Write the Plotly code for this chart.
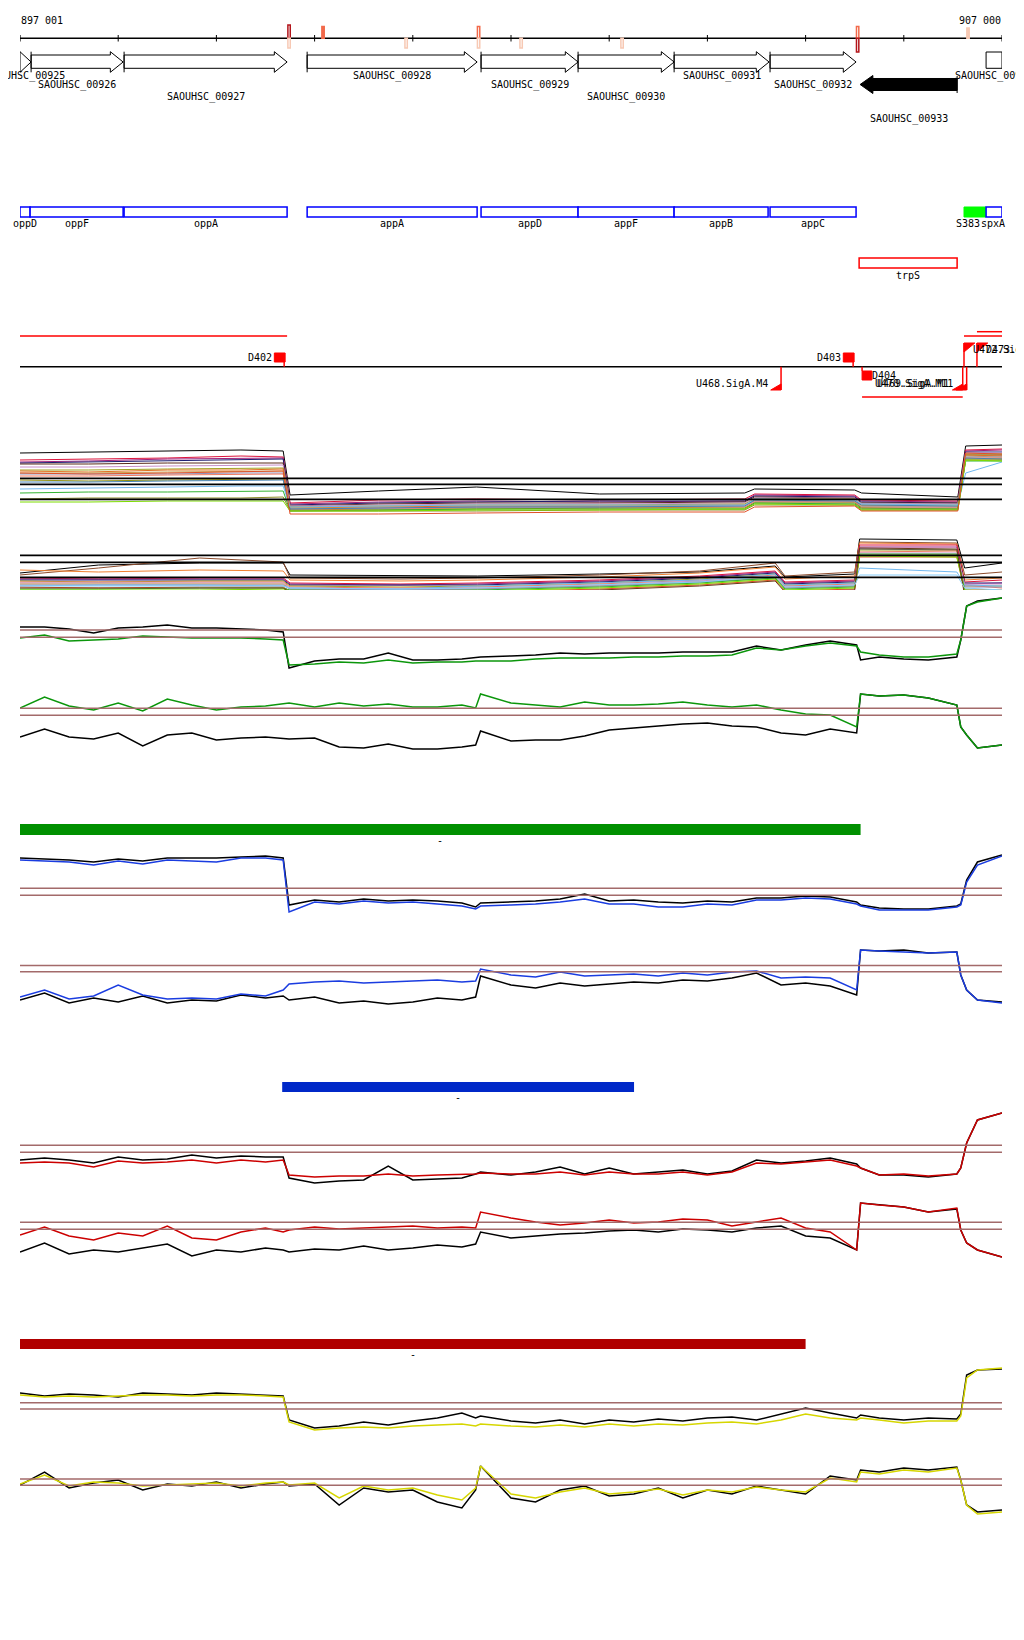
import plotly.graph_objects as go

# the page body adds an 8 px margin, so the figure is drawn 8 px in from the corner
PAGE_PAD = 8
W, H = 1024, 1624
X0, X1 = 897000, 907000
FONT = "DejaVu Sans Mono"


def yp(px):
    """page row (px from top) -> paper y"""
    return 1 - (px - PAGE_PAD) / H


# ------------------------------------------------------------------ data
RULER_TICKS = [897001, 898000, 899000, 900000, 901000, 902000, 903000,
               904000, 905000, 906000, 907000]

GENE_NAME = ['SAOUHSC_00925', 'SAOUHSC_00926', 'SAOUHSC_00927', 'SAOUHSC_00928',
             'SAOUHSC_00929', 'SAOUHSC_00930', 'SAOUHSC_00931', 'SAOUHSC_00932',
             'SAOUHSC_00933', 'SAOUHSC_00934']
GENE_START = [896990, 897113, 898060, 899924, 901695, 902683, 903661, 904638, 905555, 906838]
GENE_END = [897113, 898050, 899720, 901655, 902683, 903661, 904628, 905514, 906543, 907400]
GENE_STRAND = ['+', '+', '+', '+', '+', '+', '+', '+', '-', '+']
GENE_ROW = [0, 1, 2, 0, 1, 2, 0, 1, 3, 0]

# signal marks on the ruler (class 0 = none, 1 weak, 2 medium, 3 strong)
SITE_POS = [899740, 900086, 900932, 901670, 902103, 903131, 905530, 906654]
SITE_FWD = [3, 2, 0, 2, 0, 0, 2, 1]
SITE_REV = [1, 0, 1, 1, 1, 1, 3, 0]
SITE_SOLID = [0, 1, 0, 0, 0, 0, 0, 1]

FEAT_NAME = ['oppD', 'oppF', 'oppA', 'appA', 'appD', 'appF', 'appB', 'appC',
             'S383', 'spxA', 'trpS']
FEAT_START = [896900, 897103, 898060, 899924, 901695, 902683, 903661, 904638,
              906613, 906838, 905545]
FEAT_END = [897103, 898050, 899720, 901655, 902683, 903661, 904618, 905514,
            906838, 907400, 906543]
FEAT_KIND = ['cds'] * 8 + ['srna', 'cds', 'antisense']

TX_START = [897000, 906613, 906745, 905575]
TX_END = [899720, 907000, 907000, 906600]
TX_STRAND = ['+', '+', '+', '-']
TX_LANE = [0, 0, 1, 0]

D_NAME = ['D402', 'D403', 'D404']
D_POS = [899700, 905494, 905575]
D_STRAND = ['+', '+', '-']

U_NAME = ['U468.SigA.M4', 'U469.SigA.M1', 'U470.SigA.M11', 'U472.SigA.M3', 'D473.SigA.M2']
U_POS = [904750, 906600, 906640, 906613, 906745]
U_STRAND = ['-', '-', '-', '+', '+']

BAR_START = [897000, 899670, 897000]
BAR_END = [905560, 903253, 905000]
BAR_LABEL = ['-', '-', '-']

# bundle tracks (many samples)
U_X = [897000, 897700, 898500, 899250, 899680, 899750, 900650, 901650, 902900,
       904380, 904480, 905500, 905570, 906550, 906630, 907000]
UP_LINES = [
    [67, 68, 69, 70, 69, 25, 29, 33, 26, 27, 31, 30, 27, 23, 74, 75],
    [60, 61, 62, 64, 63, 17, 20, 21, 20, 21, 26, 25, 20, 19, 70, 71],
    [58, 59, 61, 62, 62, 16, 18, 19, 18, 19, 25, 24, 19, 18, 69, 70],
    [57, 58, 59, 60, 61, 15, 17, 18, 19, 19, 24, 23, 18, 17, 68, 68],
    [56, 56, 57, 57, 57, 14, 16, 17, 17, 18, 23, 22, 17, 17, 65, 65],
    [53, 53, 54, 55, 55, 14, 15, 16, 16, 17, 22, 22, 16, 16, 67, 67],
    [50, 50, 51, 52, 52, 13, 14, 15, 15, 16, 21, 21, 15, 15, 66, 66],
    [49, 48, 50, 50, 51, 12, 13, 14, 14, 15, 20, 20, 14, 14, 65, 64],
    [47, 47, 48, 49, 49, 12, 12, 13, 14, 15, 19, 19, 13, 13, 64, 63],
    [46, 46, 46, 47, 47, 11, 12, 13, 13, 14, 19, 18, 13, 13, 63, 63],
    [44, 44, 45, 46, 46, 10, 11, 12, 12, 13, 18, 18, 12, 12, 62, 62],
    [40, 39, 40, 41, 41, 10, 10, 11, 12, 12, 17, 17, 12, 11, 61, 61],
    [38, 38, 39, 40, 40, 11, 12, 13, 13, 14, 20, 19, 15, 14, 62, 61],
    [31, 32, 33, 34, 34, 13, 14, 15, 15, 15, 21, 20, 16, 15, 47, 58],
    [27, 28, 28, 29, 29, 9, 10, 11, 11, 11, 17, 16, 11, 11, 59, 59],
    [21, 22, 22, 22, 23, 9, 9, 9, 10, 10, 15, 15, 10, 10, 60, 60],
    [18, 18, 19, 19, 19, 9, 9, 10, 10, 11, 16, 15, 10, 10, 60, 59],
    [47, 46, 47, 48, 49, 6, 6, 7, 8, 8, 13, 14, 9, 9, 67, 66],
]
UP_CUTS = [41.7, 35.7, 20.7]

L_X = [897000, 897800, 898830, 899680, 899750, 900870, 901660, 902900, 903920,
       904690, 904790, 905500, 905550, 906540, 906620, 907000]
LO_LINES = [
    [27, 35, 37, 37, 25, 24, 24, 26, 28, 34, 23, 26, 61, 60, 32, 37],
    [25, 32, 42, 38, 22, 21, 22, 25, 29, 37, 24, 28, 58, 57, 25, 28],
    [30, 28, 30, 29, 20, 19, 20, 23, 27, 33, 21, 24, 57, 56, 20, 22],
    [22, 21, 22, 22, 17, 16, 17, 20, 24, 29, 18, 20, 55, 55, 18, 20],
    [21, 21, 21, 21, 16, 15, 16, 19, 23, 28, 17, 19, 53, 53, 16, 17],
    [20, 20, 20, 20, 15, 15, 15, 18, 22, 27, 16, 18, 51, 50, 17, 17],
    [19, 18, 19, 19, 14, 13, 14, 17, 21, 26, 15, 17, 50, 50, 14, 14],
    [18, 18, 18, 18, 13, 12, 13, 16, 20, 25, 14, 16, 48, 49, 15, 12],
    [17, 17, 17, 17, 12, 11, 12, 15, 19, 24, 13, 15, 47, 47, 16, 16],
    [16, 16, 16, 16, 11, 10, 11, 14, 18, 23, 12, 14, 45, 45, 11, 10],
    [15, 15, 15, 15, 11, 10, 11, 14, 18, 22, 12, 14, 44, 44, 13, 13],
    [14, 15, 15, 14, 12, 11, 14, 17, 20, 26, 15, 17, 32, 28, 15, 14],
    [13, 12, 13, 13, 9, 7, 8, 11, 15, 20, 9, 11, 43, 43, 8, 5],
    [11, 11, 12, 12, 10, 9, 10, 13, 17, 22, 11, 13, 46, 46, 10, 8],
    [10, 10, 10, 11, 9, 8, 9, 12, 16, 21, 10, 12, 44, 43, 9, 8],
    [12, 12, 12, 12, 8, 7, 7, 10, 14, 19, 8, 10, 52, 51, 4, 3],
    [14, 14, 14, 14, 12, 11, 12, 15, 18, 24, 13, 15, 25, 25, 12, 10],
]
LO_CUTS = [44.7, 37.7, 22.7]

# paired tracks (black reference + coloured sample)
GRID = [897000, 897250, 897500, 897750, 898000, 898250, 898500, 898750, 899000,
        899250, 899500, 899680, 899740, 900000, 900250, 900500, 900750, 901000,
        901250, 901500, 901640, 901690, 902000, 902250, 902500, 902750, 903000,
        903250, 903500, 903750, 904000, 904250, 904500, 904750, 905000, 905250,
        905520, 905560, 905750, 906000, 906250, 906540, 906580, 906640, 906750, 907000]

A_BLACK = [43, 43, 41, 37, 42, 43, 45, 42, 42, 41, 40, 38, 2, 9, 11, 11, 17, 10, 10, 11,
           12, 13, 14, 15, 17, 16, 17, 17, 17, 18, 18, 18, 24, 20, 25, 29, 25, 10, 13, 11,
           10, 13, 30, 64, 69, 72]
A_GREEN = [32, 35, 29, 30, 31, 34, 33, 32, 32, 32, 31, 30, 5, 6, 8, 7, 10, 7, 8, 8,
           9, 9, 9, 11, 12, 12, 12, 13, 13, 14, 14, 15, 22, 20, 24, 27, 24, 18, 15, 13,
           13, 16, 30, 64, 68, 72]
A_CUTS = [40, 32.7]

B_BLACK = [23, 31, 23, 21, 27, 14, 25, 27, 20, 22, 23, 22, 21, 22, 13, 12, 16, 11, 11, 13,
           15, 29, 19, 20, 20, 24, 30, 32, 34, 36, 37, 34, 33, 27, 25, 31, 27, 66, 64, 65,
           62, 55, 33, 25, 12, 15]
B_GREEN = [52, 63, 54, 50, 57, 49, 61, 55, 50, 53, 54, 56, 57, 53, 57, 54, 56, 53, 53, 55,
           52, 66, 57, 55, 53, 58, 55, 55, 56, 58, 55, 53, 55, 50, 46, 45, 33, 66, 64, 65,
           62, 55, 33, 25, 12, 15]
B_CUTS = [51.7, 44.7]

C_BLACK = [62, 61, 60, 58, 61, 59, 62, 62, 62, 63, 64, 62, 15, 20, 18, 21, 19, 20, 19, 17,
           13, 17, 18, 19, 21, 26, 19, 20, 18, 17, 19, 18, 22, 22, 24, 23, 18, 15, 12, 11,
           11, 14, 16, 40, 58, 65]
C_BLUE = [60, 59, 58, 55, 59, 56, 60, 59, 58, 62, 62, 60, 8, 18, 16, 19, 17, 18, 16, 14,
          11, 14, 15, 16, 18, 21, 16, 16, 13, 13, 16, 15, 20, 20, 22, 21, 16, 14, 10, 10,
          10, 13, 15, 38, 55, 64]
C_CUTS = [31.7, 24.7]

D_BLACK = [15, 22, 12, 17, 13, 19, 12, 15, 14, 20, 17, 19, 15, 18, 12, 14, 11, 13, 17, 15,
           18, 39, 30, 27, 32, 29, 31, 33, 32, 35, 34, 37, 42, 30, 32, 29, 20, 65, 64, 65,
           62, 63, 40, 25, 15, 13]
D_BLUE = [18, 25, 16, 19, 30, 20, 16, 17, 16, 21, 19, 25, 31, 33, 34, 32, 33, 34, 35, 33,
          34, 46, 40, 38, 43, 39, 40, 41, 39, 42, 40, 43, 44, 37, 38, 37, 25, 65, 64, 63,
          62, 63, 40, 25, 15, 12]
D_CUTS = [49.5, 43.2]

E_BLACK = [30, 32, 30, 27, 33, 30, 31, 35, 32, 34, 33, 33, 12, 7, 9, 10, 24, 10, 11, 12,
           16, 18, 15, 18, 23, 16, 22, 16, 18, 20, 16, 19, 30, 27, 29, 32, 26, 22, 15, 15,
           13, 16, 22, 47, 70, 77]
E_RED = [27, 28, 27, 23, 29, 27, 28, 30, 27, 30, 28, 30, 15, 13, 14, 14, 16, 14, 15, 16,
         16, 17, 16, 16, 18, 15, 18, 16, 16, 18, 15, 18, 27, 26, 28, 30, 24, 22, 15, 16,
         14, 16, 22, 47, 70, 77]
E_CUTS = [44.7, 37.7]

F_BLACK = [18, 27, 16, 20, 18, 22, 26, 14, 20, 18, 22, 20, 18, 21, 20, 24, 20, 22, 25, 23,
           26, 38, 32, 34, 36, 37, 39, 40, 38, 41, 40, 38, 42, 44, 34, 32, 20, 67, 65, 63,
           58, 61, 40, 27, 20, 13]
F_RED = [35, 43, 34, 30, 37, 34, 44, 32, 30, 38, 42, 38, 40, 43, 41, 42, 43, 44, 42, 43,
         42, 58, 52, 48, 45, 47, 50, 47, 48, 51, 50, 44, 48, 52, 42, 38, 20, 67, 65, 63,
         58, 62, 40, 27, 20, 13]
F_CUTS = [47.7, 40.7]

G_BLACK = [47, 44, 46, 45, 43, 47, 46, 45, 47, 46, 45, 44, 20, 12, 14, 18, 15, 19, 22, 27,
           22, 24, 19, 17, 20, 16, 20, 18, 21, 19, 22, 23, 20, 26, 32, 27, 22, 25, 22, 20,
           22, 21, 26, 65, 70, 71]
G_YELLOW = [45, 43, 44, 43, 44, 45, 45, 44, 45, 45, 44, 43, 18, 10, 12, 13, 12, 14, 15, 16,
            14, 16, 14, 13, 15, 13, 16, 14, 16, 15, 17, 18, 16, 20, 26, 22, 20, 22, 20, 17,
            19, 19, 24, 62, 70, 72]
G_CUTS = [37.3, 31]

H_BLACK = [45, 58, 42, 47, 50, 40, 46, 44, 48, 42, 46, 48, 44, 46, 25, 42, 38, 40, 28, 22,
           40, 64, 32, 28, 40, 44, 34, 36, 42, 32, 40, 36, 44, 40, 36, 54, 50, 60, 58, 62,
           60, 63, 50, 25, 18, 20]
H_YELLOW = [46, 55, 44, 48, 47, 44, 45, 46, 47, 44, 47, 48, 45, 47, 32, 44, 40, 42, 35, 30,
            42, 64, 36, 32, 38, 42, 36, 38, 41, 35, 40, 38, 43, 40, 38, 52, 48, 58, 56, 60,
            58, 62, 50, 25, 16, 18]
H_CUTS = [51, 44.7]

# ------------------------------------------------------------------ styles
UP_COLORS = ['#000000', '#dc143c', '#a0207a', '#1c1c70', '#5a2a1a', '#c890c8', '#a0a020',
             '#e07020', '#c8a050', '#9090b8', '#f07860', '#909010', '#4682b4', '#70b8f0',
             '#32b432', '#8c8c28', '#7cdc00', '#e05028']
LO_COLORS = ['#000000', '#8b4a2a', '#f08030', '#dc143c', '#a0207a', '#1c1c70', '#a0a020',
             '#f07860', '#c890c8', '#c8a050', '#9090b8', '#70b8f0', '#e05028', '#32b432',
             '#7cdc00', '#6a3a1a', '#87cefa']
GREEN, BLUE, RED, YELLOW = '#0b960b', '#1a3ce0', '#cc0000', '#d6d600'
CUT_COLOR = '#a36a6a'
BAR_COLORS = ['#009000', '#0028c8', '#b00000']
BAR_ROWS = [(824, 835), (1082, 1092), (1339, 1349)]
SITE_COLORS = {1: '#f7c9b4', 2: '#f26a4b', 3: '#b3141a'}
SITE_TOP = {1: 28, 2: 26.5, 3: 25}
SITE_BOTTOM = {1: 48, 2: 48.5, 3: 52}
LABEL_ROWS = [76, 85, 97.5, 118.5]
HEAD = 130

# axis id -> (bottom row px, value span)
AXES = {'y': (520, 85), 'y2': (600, 70), 'y3': (670, 80), 'y4': (760, 75),
        'y5': (920, 75), 'y6': (1015, 75), 'y7': (1190, 85), 'y8': (1270, 75),
        'y9': (1440, 80), 'y10': (1530, 70)}

fig = go.Figure()
shapes = []


def line(x0, x1, y0, y1, color, width=1.5, yref='paper'):
    if yref == 'paper':
        y0, y1 = yp(y0), yp(y1)
    shapes.append(dict(type='line', xref='x', yref=yref, x0=x0, x1=x1, y0=y0, y1=y1,
                       line=dict(color=color, width=width)))


def rect(x0, x1, top, bottom, edge, fill, width=1.5):
    shapes.append(dict(type='rect', xref='x', yref='paper', x0=x0, x1=x1,
                       y0=yp(bottom), y1=yp(top), fillcolor=fill,
                       line=dict(color=edge, width=width)))


def poly(points, edge, fill, width=1):
    d = 'M ' + ' L '.join(f'{x},{yp(y):.6f}' for x, y in points) + ' Z'
    shapes.append(dict(type='path', xref='x', yref='paper', path=d, fillcolor=fill,
                       line=dict(color=edge, width=width)))


def label(x, ypx, text, anchor='center', shift=0):
    fig.add_annotation(x=x, y=yp(ypx), xref='x', yref='paper', text=text, showarrow=False,
                       xanchor=anchor, yanchor='middle', xshift=shift, borderpad=0,
                       font=dict(family=FONT, size=10, color='black'))


def add_line(x, y, ax, color, width=1.5):
    fig.add_trace(go.Scatter(x=x, y=y, mode='lines', xaxis='x', yaxis=ax,
                             line=dict(color=color, width=width),
                             hoverinfo='skip', showlegend=False))


# ruler
line(X0, X1, 38.3, 38.3, 'black')
for t in RULER_TICKS:
    line(t, t, 35, 41.5, 'black', 1)
label(RULER_TICKS[0], 20.5, f'{RULER_TICKS[0]:,}'.replace(',', ' '), 'left')
label(RULER_TICKS[-1], 20.5, f'{RULER_TICKS[-1]:,}'.replace(',', ' '), 'right')

for pos, fwd, rev, solid in zip(SITE_POS, SITE_FWD, SITE_REV, SITE_SOLID):
    for cls, top, bottom in ((fwd, SITE_TOP.get(fwd), 38.3), (rev, 38.3, SITE_BOTTOM.get(rev))):
        if cls:
            c = SITE_COLORS[cls]
            rect(pos - 12, pos + 12, top, bottom, c, c if solid else 'white', 1.5)

# genes
for name, s, e, strand, row in zip(GENE_NAME, GENE_START, GENE_END, GENE_STRAND, GENE_ROW):
    vs, ve = max(s, X0), min(e, X1)
    if strand == '+':
        if e > X1:
            rect(vs, X1, 52, 68.3, 'black', 'white', 1)
        elif e - vs <= HEAD:
            poly([(vs, 51.7), (e, 62), (vs, 72.3)], 'black', 'white')
        else:
            poly([(vs, 55), (e - HEAD, 55), (e - HEAD, 51.7), (e, 62), (e - HEAD, 72.3),
                  (e - HEAD, 68.3), (vs, 68.3)], 'black', 'white')
            line(vs, vs, 51.7, 72.3, 'black', 1)
    else:
        poly([(s, 84.5), (s + HEAD, 75.5), (s + HEAD, 78.5), (ve, 78.5), (ve, 90.5),
              (s + HEAD, 90.5), (s + HEAD, 93.5)], 'black', 'black')
        line(ve, ve, 76, 93, 'black', 1)
    label((vs + ve) / 2, LABEL_ROWS[row], name)

# annotated features
for name, s, e, kind in zip(FEAT_NAME, FEAT_START, FEAT_END, FEAT_KIND):
    vs, ve = max(s, X0), min(e, X1)
    if kind == 'antisense':
        rect(vs, ve, 258, 268, '#ff0000', 'white')
        label((vs + ve) / 2, 276, name)
        continue
    if kind == 'srna':
        rect(vs, ve, 207, 217, '#00ff00', '#00ff00', 1)
        label(ve, 224, name, 'right', -5)
    else:
        rect(vs, ve, 207, 217, '#0000ff', 'white')
        if e > X1:
            label(vs, 224, name, 'left', -6)
        else:
            label((vs + ve) / 2, 224, name)

# transcripts and promoters
for s, e, strand, lane in zip(TX_START, TX_END, TX_STRAND, TX_LANE):
    ypx = 336 - 4.3 * lane if strand == '+' else 397 + 4.3 * lane
    line(s, e, ypx, ypx, '#ff0000')
line(X0, X1, 366.7, 366.7, 'black')

for name, pos, strand in zip(D_NAME, D_POS, D_STRAND):
    if strand == '+':
        rect(pos - 110, pos, 353, 362, '#ff0000', '#ff0000', 1)
        line(pos - 10, pos - 10, 362, 366.7, '#ff0000')
        label(pos - 125, 357.5, name, 'right')
    else:
        rect(pos, pos + 100, 371, 380, '#ff0000', '#ff0000', 1)
        line(pos, pos, 366.7, 371, '#ff0000')
        label(pos + 95, 376, name, 'left')

for name, pos, strand in zip(U_NAME, U_POS, U_STRAND):
    if strand == '-':
        line(pos, pos, 366.7, 390, '#ff0000')
        poly([(pos - 105, 390), (pos, 390), (pos, 384)], '#ff0000', '#ff0000')
        label(pos - 125, 383, name, 'right')
    else:
        line(pos, pos, 343, 366.7, '#ff0000')
        poly([(pos, 343), (pos + 110, 343), (pos, 352)], '#ff0000', '#ff0000')
        label(pos + 80, 349, name, 'left')

# region bars
for s, e, txt, c, (top, bottom) in zip(BAR_START, BAR_END, BAR_LABEL, BAR_COLORS, BAR_ROWS):
    rect(s, e, top, bottom, c, c, 0)
    label((s + e) / 2, bottom + 5.5, txt)

# bundle tracks
for vals, c in zip(UP_LINES, UP_COLORS):
    add_line(U_X, vals, 'y', c, 1)
for vals, c in zip(LO_LINES, LO_COLORS):
    add_line(L_X, vals, 'y2', c, 1)
for cut in UP_CUTS:
    line(X0, X1, cut, cut, 'black', 1.8, 'y')
for cut in LO_CUTS:
    line(X0, X1, cut, cut, 'black', 1.8, 'y2')

PAIRS = [('y3', A_BLACK, A_GREEN, GREEN, A_CUTS),
         ('y4', B_BLACK, B_GREEN, GREEN, B_CUTS),
         ('y5', C_BLACK, C_BLUE, BLUE, C_CUTS),
         ('y6', D_BLACK, D_BLUE, BLUE, D_CUTS),
         ('y7', E_BLACK, E_RED, RED, E_CUTS),
         ('y8', F_BLACK, F_RED, RED, F_CUTS),
         ('y9', G_BLACK, G_YELLOW, YELLOW, G_CUTS),
         ('y10', H_BLACK, H_YELLOW, YELLOW, H_CUTS)]
for ax, black, colour, c, cuts in PAIRS:
    for cut in cuts:
        line(X0, X1, cut, cut, CUT_COLOR, 1.5, ax)
    add_line(GRID, black, ax, 'black', 1.5)
    add_line(GRID, colour, ax, c, 1.5)

layout = dict(
    width=W, height=H, margin=dict(l=20 - PAGE_PAD, r=W - (1002 - PAGE_PAD), t=0, b=0),
    paper_bgcolor='white', plot_bgcolor='white', showlegend=False,
    xaxis=dict(range=[X0, X1], domain=[0, 1], visible=False, fixedrange=True),
    shapes=shapes,
)
for ax, (bottom, span) in AXES.items():
    key = 'yaxis' if ax == 'y' else 'yaxis' + ax[1:]
    layout[key] = dict(domain=[yp(bottom), yp(bottom - span)], range=[0, span],
                       visible=False, fixedrange=True, anchor='x')
fig.update_layout(**layout)
fig.write_html("out.html")
